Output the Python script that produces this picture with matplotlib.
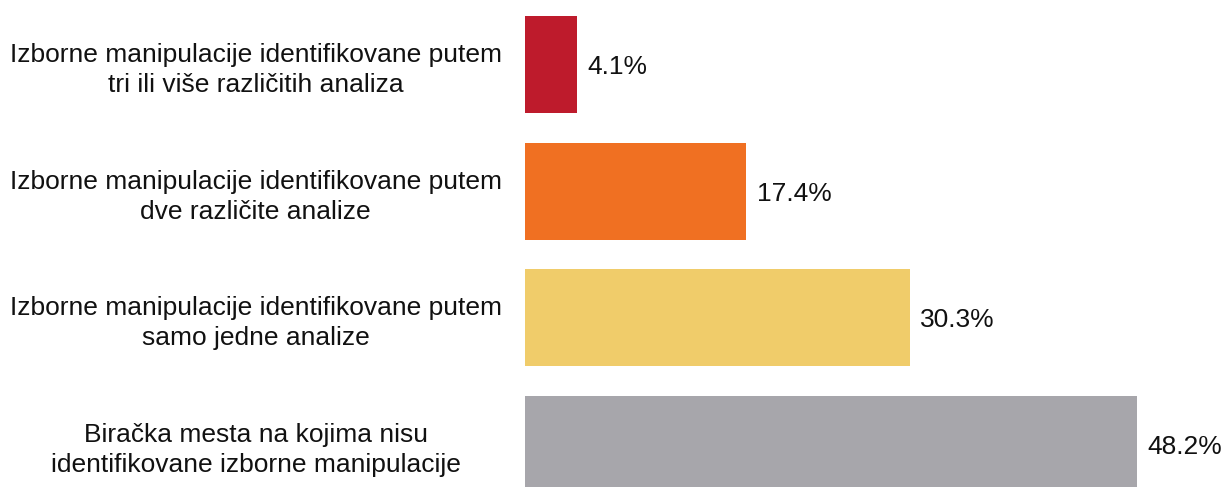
import matplotlib
matplotlib.use('Agg')
import matplotlib.pyplot as plt

categories = [
    "Izborne manipulacije identifikovane putem\ntri ili više različitih analiza",
    "Izborne manipulacije identifikovane putem\ndve različite analize",
    "Izborne manipulacije identifikovane putem\nsamo jedne analize",
    "Biračka mesta na kojima nisu\nidentifikovane izborne manipulacije",
]
values = [4.1, 17.4, 30.3, 48.2]
colors = ['#BE1B2C', '#F07022', '#F0CC6A', '#A7A6AB']

plt.rcParams['font.family'] = ['Liberation Sans', 'DejaVu Sans']

W, H = 1223, 487
fig = plt.figure(figsize=(W / 100, H / 100), dpi=100)
ax = fig.add_axes([525 / W, 0, 1 - 525 / W, 1])

pos = list(range(len(values)))
ax.barh(pos, values, height=0.766, color=colors)
ax.set_xlim(0, 55.0)
ax.set_ylim(3.336, -0.509)

for p, v in zip(pos, values):
    ax.text(v + 0.85, p + 0.02, f"{v}%", va='center', ha='left', fontsize=19, color='#111111')

ax.set_yticks(pos)
ax.set_yticklabels(categories, ha='center', fontsize=19, linespacing=1.32, color='#111111')
ax.tick_params(axis='y', length=0, pad=194)
ax.set_xticks([])
for s in ax.spines.values():
    s.set_visible(False)

fig.savefig('out.png', dpi=100)
